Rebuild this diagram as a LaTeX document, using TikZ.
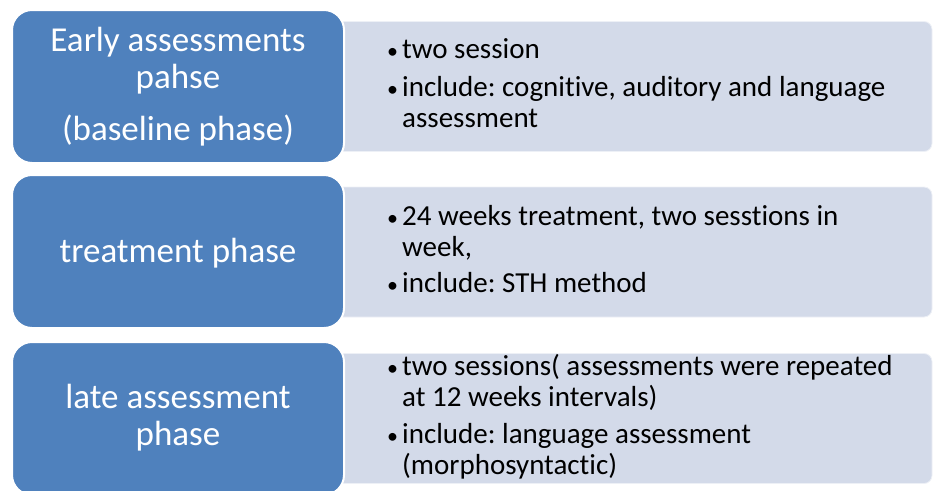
\documentclass[tikz,border=0pt]{standalone}
\usepackage{fontspec}
\setmainfont{Carlito}[Ligatures=NoCommon]
\frenchspacing
\definecolor{phaseblue}{HTML}{4F81BD}
\definecolor{detailfill}{HTML}{D3DAE9}

% one bulleted entry with a hanging indent for its wrapped lines
\newcommand\bulletentry[1]{\hangindent=15pt\hangafter=1\noindent
  \makebox[15pt][l]{\fontsize{22}{22}\selectfont•}#1\par}

\tikzset{
  phasebox/.style={draw=white, line width=2pt, fill=phaseblue, rounded corners=20pt,
    minimum width=332pt, minimum height=153pt, inner sep=0pt},
  detailbox/.style={draw=white!60!detailfill, line width=0.8pt, fill=detailfill, rounded corners=8pt,
    minimum width=602pt, minimum height=130pt, inner sep=0pt},
  phasetext/.style={anchor=base, inner sep=0pt, text=white,
    font=\fontsize{35}{37}\selectfont},
  detailtext/.style={anchor=base west, inner sep=0pt, text=black,
    font=\fontsize{29}{31}\selectfont}
}

\begin{document}
\begin{tikzpicture}[x=1pt,y=-1pt]
  \useasboundingbox (0,0) rectangle (934,490);

  % detail panels (their left part sits behind the phase boxes)
  \node[detailbox] (d1) at (631,86.5) {};
  \node[detailbox] (d2) at (631,252) {};
  \node[detailbox] (d3) at (631,418.5) {};

  % phase boxes
  \node[phasebox] (p1) at (178,86.5) {};
  \node[phasebox] (p2) at (178,251.5) {};
  \node[phasebox] (p3) at (178,418.5) {};

  % phase titles
  \node[phasetext] (t1) at (178,51) {\parbox[t]{320pt}{\centering
    Early assessments\\ pahse\\[15pt] (baseline phase)}};
  \node[phasetext] (t2) at (178,262) {\parbox[t]{320pt}{\centering treatment phase}};
  \node[phasetext] (t3) at (178,408) {\parbox[t]{320pt}{\centering
    late assessment\\ phase}};

  % phase details
  \node[detailtext] (s1) at (387,58) {\parbox[t]{540pt}{\setlength{\parskip}{7pt}%
    \bulletentry{two session}
    \bulletentry{include: cognitive, auditory and language\\ assessment}}};
  \node[detailtext] (s2) at (387,225) {\parbox[t]{540pt}{\setlength{\parskip}{5pt}%
    \bulletentry{24 weeks treatment, two sesstions in\\ week,}
    \bulletentry{include: STH method}}};
  \node[detailtext] (s3) at (387,375) {\parbox[t]{540pt}{\setlength{\parskip}{6pt}%
    \bulletentry{two sessions( assessments were repeated\\ at 12 weeks intervals)}
    \bulletentry{include: language assessment\\ (morphosyntactic)}}};
\end{tikzpicture}
\end{document}
